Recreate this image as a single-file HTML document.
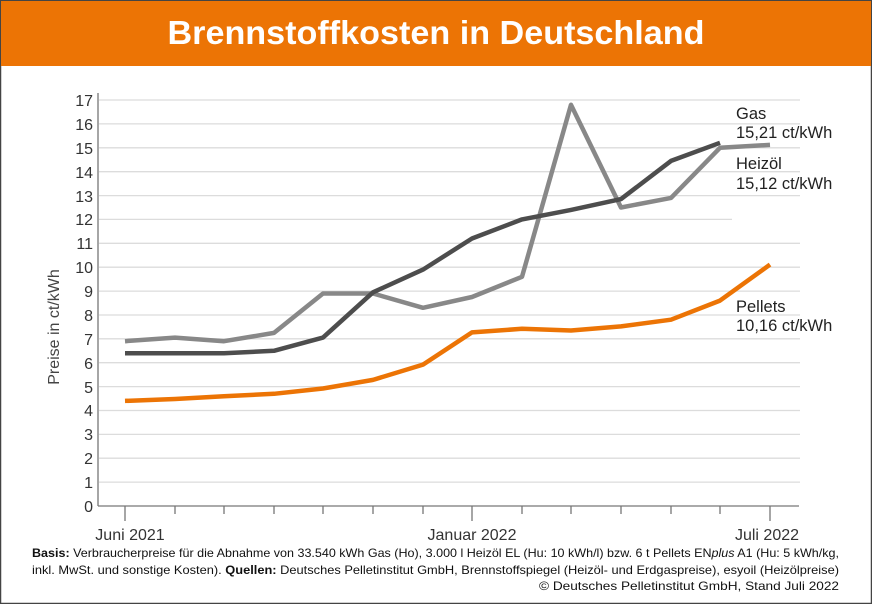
<!DOCTYPE html>
<html><head><meta charset="utf-8"><style>
html,body{margin:0;padding:0;background:#fff}
svg{display:block;font-family:"Liberation Sans",sans-serif}
</style></head><body>
<svg width="872" height="604" viewBox="0 0 872 604" xmlns="http://www.w3.org/2000/svg">
<rect x="0.5" y="0.5" width="871" height="603" fill="#fff" stroke="#444" stroke-width="1.5"/>
<rect x="1" y="1" width="870" height="65" fill="#ec7405"/>
<text x="436" y="44" text-anchor="middle" font-size="33" font-weight="bold" fill="#fff" textLength="537" lengthAdjust="spacingAndGlyphs">Brennstoffkosten in Deutschland</text>
<g stroke="#dcdcdc" stroke-width="1.3">
<line x1="99" x2="800" y1="482.1" y2="482.1"/><line x1="99" x2="800" y1="458.2" y2="458.2"/>
<line x1="99" x2="800" y1="434.4" y2="434.4"/><line x1="99" x2="800" y1="410.5" y2="410.5"/>
<line x1="99" x2="800" y1="386.6" y2="386.6"/><line x1="99" x2="800" y1="362.7" y2="362.7"/>
<line x1="99" x2="800" y1="338.8" y2="338.8"/><line x1="99" x2="800" y1="315" y2="315"/>
<line x1="99" x2="800" y1="291.1" y2="291.1"/><line x1="99" x2="800" y1="267.2" y2="267.2"/>
<line x1="99" x2="800" y1="243.3" y2="243.3"/><line x1="99" x2="732" y1="219.4" y2="219.4"/>
<line x1="99" x2="800" y1="195.6" y2="195.6"/><line x1="99" x2="800" y1="171.7" y2="171.7"/>
<line x1="99" x2="800" y1="147.8" y2="147.8"/><line x1="99" x2="800" y1="123.9" y2="123.9"/>
<line x1="99" x2="800" y1="100" y2="100"/>
</g>
<g stroke="#777" stroke-width="1.3">
<line x1="98" x2="98" y1="93" y2="506"/><line x1="98" x2="799" y1="506" y2="506"/>
<line x1="125" x2="125" y1="506" y2="521"/><line x1="175" x2="175" y1="506" y2="514"/>
<line x1="224" x2="224" y1="506" y2="514"/><line x1="274" x2="274" y1="506" y2="514"/>
<line x1="323" x2="323" y1="506" y2="514"/><line x1="373" x2="373" y1="506" y2="514"/>
<line x1="423" x2="423" y1="506" y2="514"/><line x1="472" x2="472" y1="506" y2="521"/>
<line x1="522" x2="522" y1="506" y2="514"/><line x1="571" x2="571" y1="506" y2="514"/>
<line x1="621" x2="621" y1="506" y2="514"/><line x1="671" x2="671" y1="506" y2="514"/>
<line x1="720" x2="720" y1="506" y2="514"/><line x1="770" x2="770" y1="506" y2="521"/>
</g>
<g font-size="16" fill="#333" text-anchor="end">
<text x="93" y="512">0</text><text x="93" y="488">1</text><text x="93" y="464">2</text>
<text x="93" y="440">3</text><text x="93" y="416">4</text><text x="93" y="393">5</text>
<text x="93" y="369">6</text><text x="93" y="345">7</text><text x="93" y="321">8</text>
<text x="93" y="297">9</text><text x="93" y="273">10</text><text x="93" y="249">11</text>
<text x="93" y="225">12</text><text x="93" y="202">13</text><text x="93" y="178">14</text>
<text x="93" y="154">15</text><text x="93" y="130">16</text><text x="93" y="106">17</text>
</g>
<text transform="translate(59,327) rotate(-90)" text-anchor="middle" font-size="16" fill="#444">Preise in ct/kWh</text>
<g font-size="16" fill="#333" text-anchor="middle">
<text x="130" y="540">Juni 2021</text><text x="472" y="540">Januar 2022</text><text x="767" y="540">Juli 2022</text>
</g>
<g fill="none" stroke-width="4.5" stroke-linejoin="round" stroke-linecap="butt">
<polyline stroke="#888" points="125,341.2 175,337.6 224,341.2 274,332.9 323,293.5 373,293.5 423,307.8 472,297 522,276.8 571,104.8 621,207.5 671,197.9 720,147.8 770,144.9"/>
<polyline stroke="#4d4d4d" points="125,353.2 175,353.2 224,353.2 274,350.8 323,337.6 373,292.3 423,269.6 472,238.5 522,219.4 571,209.9 621,199.1 671,160.9 720,142.8"/>
<polyline stroke="#ec7405" points="125,400.9 175,399 224,396.2 274,393.8 323,388.5 373,379.9 423,364.6 472,332.4 522,328.8 571,330.5 621,326.4 671,319.7 720,300.6 770,264.6"/>
</g>
<g font-size="16.5" fill="#222">
<text x="736" y="119">Gas</text><text x="736" y="138">15,21 ct/kWh</text>
<text x="736" y="169">Heizöl</text><text x="736" y="189">15,12 ct/kWh</text>
<text x="736" y="312">Pellets</text><text x="736" y="331">10,16 ct/kWh</text>
</g>
<g font-size="12" fill="#111">
<text x="32" y="557" textLength="807" lengthAdjust="spacingAndGlyphs"><tspan font-weight="bold">Basis:</tspan> Verbraucherpreise für die Abnahme von 33.540 kWh Gas (Ho), 3.000 l Heizöl EL (Hu: 10 kWh/l) bzw. 6 t Pellets EN<tspan font-style="italic">plus</tspan> A1 (Hu: 5 kWh/kg,</text>
<text x="32" y="574" textLength="807" lengthAdjust="spacingAndGlyphs">inkl. MwSt. und sonstige Kosten). <tspan font-weight="bold">Quellen:</tspan> Deutsches Pelletinstitut GmbH, Brennstoffspiegel (Heizöl- und Erdgaspreise), esyoil (Heizölpreise)</text>
<text x="839" y="590" text-anchor="end" textLength="300" lengthAdjust="spacingAndGlyphs">© Deutsches Pelletinstitut GmbH, Stand Juli 2022</text>
</g>
</svg>
</body></html>
